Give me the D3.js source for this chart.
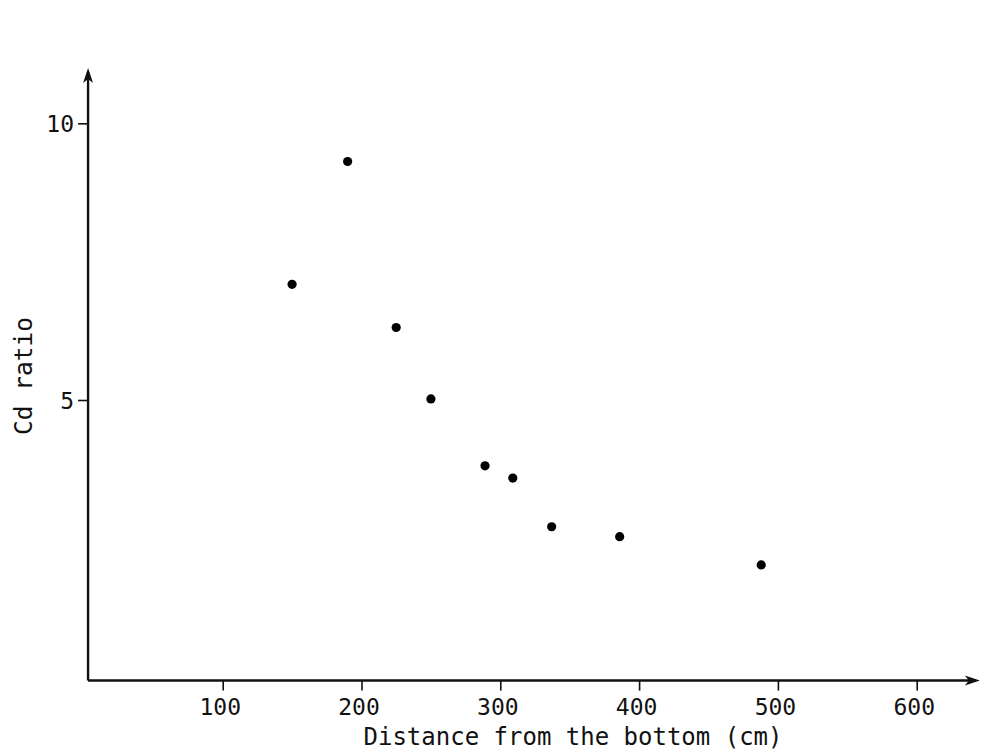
<!DOCTYPE html>
<html lang="en">
<head>
<meta charset="utf-8">
<title>Cd ratio</title>
<style>
  body { margin: 0; background: #fff; }
  text { font-family: "DejaVu Sans Mono", "Liberation Mono", monospace; fill: #111; }
</style>
<script src="https://d3js.org/d3.v7.min.js"></script>
</head>
<body>
<svg id="chart"></svg>
<script>
// values
var distance = [150, 190, 225, 250, 289, 309, 337, 386, 488];
var cdRatio  = [7.09, 9.31, 6.31, 5.02, 3.81, 3.59, 2.71, 2.53, 2.02];
var xTicks = [100, 200, 300, 400, 500, 600];
var yTicks = [5, 10];

var width = 984, height = 756;
var svg = d3.select("#chart").attr("width", width).attr("height", height);

var x = d3.scaleLinear().domain([0, 600]).range([83.9, 916.7]);
var y = d3.scaleLinear().domain([0, 10]).range([676.7, 123.3]);

// axis extents (data units)
var x0 = 3, x1 = 645.5, y0 = -0.07, y1 = 11;

// x axis
var gx = svg.append("g")
  .attr("transform", "translate(0," + y(y0) + ")")
  .call(d3.axisBottom(x).tickValues(xTicks).tickSize(10).tickSizeOuter(0));
gx.select(".domain").remove();
gx.selectAll(".tick line").attr("stroke", "#111").attr("stroke-width", 1.6);
gx.selectAll(".tick text")
  .attr("font-size", 23).attr("font-family", null)
  .attr("y", 34).attr("dy", null).attr("dx", -3);

// y axis
var gy = svg.append("g")
  .attr("transform", "translate(" + x(x0) + ",0)")
  .call(d3.axisLeft(y).tickValues(yTicks).tickSize(10).tickSizeOuter(0));
gy.select(".domain").remove();
gy.selectAll(".tick line").attr("stroke", "#111").attr("stroke-width", 1.6);
gy.selectAll(".tick text")
  .attr("font-size", 23).attr("font-family", null)
  .attr("x", -14).attr("dy", null).attr("y", 8);

// axis lines with arrows
svg.append("line")
  .attr("x1", x(x0)).attr("y1", y(y0)).attr("x2", x(x1) - 4).attr("y2", y(y0))
  .attr("stroke", "#111").attr("stroke-width", 2.4);
svg.append("line")
  .attr("x1", x(x0)).attr("y1", y(y0)).attr("x2", x(x0)).attr("y2", y(y1) + 4)
  .attr("stroke", "#111").attr("stroke-width", 2.4);

var ax = x(x1), ay = y(y0);
svg.append("path")
  .attr("d", "M" + ax + "," + ay + " L" + (ax - 15) + "," + (ay - 5) + " L" + (ax - 11) + "," + ay + " L" + (ax - 15) + "," + (ay + 5) + " Z")
  .attr("fill", "#111");
var bx = x(x0), by = y(y1);
svg.append("path")
  .attr("d", "M" + bx + "," + by + " L" + (bx - 5) + "," + (by + 15) + " L" + bx + "," + (by + 11) + " L" + (bx + 5) + "," + (by + 15) + " Z")
  .attr("fill", "#111");

// points
svg.selectAll("circle")
  .data(distance)
  .enter()
  .append("circle")
  .attr("cx", function(d) { return x(d); })
  .attr("cy", function(d, i) { return y(cdRatio[i]); })
  .attr("r", 4.6)
  .attr("fill", "#000");

// axis titles
svg.append("text")
  .attr("text-anchor", "middle")
  .attr("font-size", 24)
  .attr("x", 573).attr("y", 745)
  .text("Distance from the bottom (cm)");

svg.append("text")
  .attr("text-anchor", "middle")
  .attr("font-size", 24.5)
  .attr("transform", "translate(32,376) rotate(-90)")
  .text("Cd ratio");
</script>
</body>
</html>
